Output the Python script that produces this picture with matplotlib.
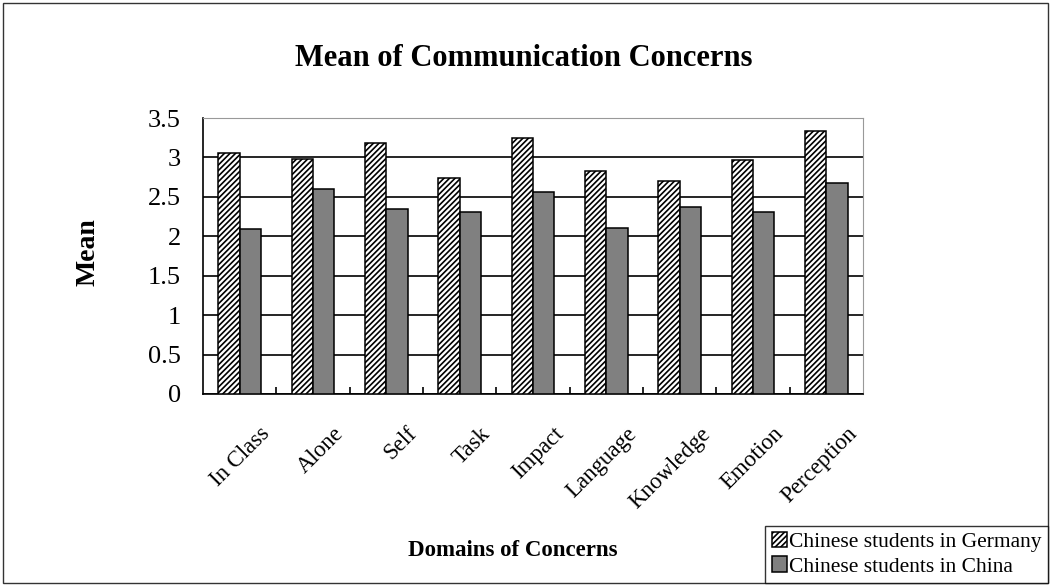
import numpy as np
import matplotlib.pyplot as plt
import matplotlib.transforms as mtransforms
from matplotlib.patches import Rectangle

# --- Data ---
domains = ['In Class', 'Alone', 'Self', 'Task', 'Impact',
           'Language', 'Knowledge', 'Emotion', 'Perception']
germany = [3.05, 2.98, 3.18, 2.74, 3.25, 2.83, 2.70, 2.97, 3.34]
china = [2.09, 2.60, 2.34, 2.31, 2.56, 2.11, 2.37, 2.31, 2.68]
yticks = [0, 0.5, 1, 1.5, 2, 2.5, 3, 3.5]

plt.rcParams['font.family'] = ['Liberation Serif', 'DejaVu Serif']
plt.rcParams['hatch.linewidth'] = 1.2

fig = plt.figure(figsize=(10.51, 5.86), dpi=100)
ax = fig.add_axes([203 / 1051, 1 - 394 / 586, 660 / 1051, 276 / 586])

# outer chart border
fig.patches.append(Rectangle((0.003, 0.005), 0.994, 0.99, transform=fig.transFigure,
                             fill=False, edgecolor='#333333', linewidth=1.0))

x = np.arange(len(domains))
w = 0.29
ax.bar(x - w / 2, germany, w, color='white', edgecolor='black',
       hatch='//////', linewidth=1.1, label='Chinese students in Germany', zorder=3)
ax.bar(x + w / 2, china, w, color='#808080', edgecolor='black',
       linewidth=1.1, label='Chinese students in China', zorder=3)

ax.set_xlim(-0.5, len(domains) - 0.5)
ax.set_ylim(0, 3.5)
ax.set_yticks(yticks)
ax.set_yticklabels(['0', '0.5', '1', '1.5', '2', '2.5', '3', '3.5'], fontsize=19)
ax.yaxis.grid(True, color='black', linewidth=1.2, zorder=0)
ax.tick_params(axis='y', length=0, pad=16)

# x labels rotated, ticks between categories pointing inward
ax.set_xticks(x)
ax.set_xticklabels(domains, rotation=45, fontsize=16.5,
                   ha='right', va='top', rotation_mode='anchor')
ax.tick_params(axis='x', length=0, pad=21)
shift = mtransforms.ScaledTranslation(20 / 100, 0, fig.dpi_scale_trans)
for lbl in ax.get_xticklabels():
    lbl.set_transform(lbl.get_transform() + shift)
ax.set_xticks(np.arange(0.5, len(domains) - 0.5), minor=True)
ax.tick_params(axis='x', which='minor', direction='in', length=5, width=1.2)

for side in ['top', 'right']:
    ax.spines[side].set_color('#999999')
ax.spines['left'].set_linewidth(1.2)
ax.spines['bottom'].set_linewidth(1.2)

fig.text(524 / 1051, 1 - 58 / 586, 'Mean of Communication Concerns',
         ha='center', va='center', fontsize=22, fontweight='bold')
fig.text(88 / 1051, 1 - 252 / 586, 'Mean', rotation=90,
         ha='center', va='center', fontsize=20, fontweight='bold')
fig.text(513 / 1051, 1 - 550 / 586, 'Domains of Concerns',
         ha='center', va='center', fontsize=16.5, fontweight='bold')

leg = fig.legend(loc='lower right', bbox_to_anchor=(1048 / 1051, 3 / 586),
                 fontsize=15.5, frameon=True, fancybox=False, edgecolor='black',
                 handlelength=0.7, handleheight=0.7, handletextpad=0.1,
                 borderpad=0.3, labelspacing=0.2, borderaxespad=0)
leg.get_frame().set_linewidth(1.0)

plt.savefig('out.png', dpi=100)
